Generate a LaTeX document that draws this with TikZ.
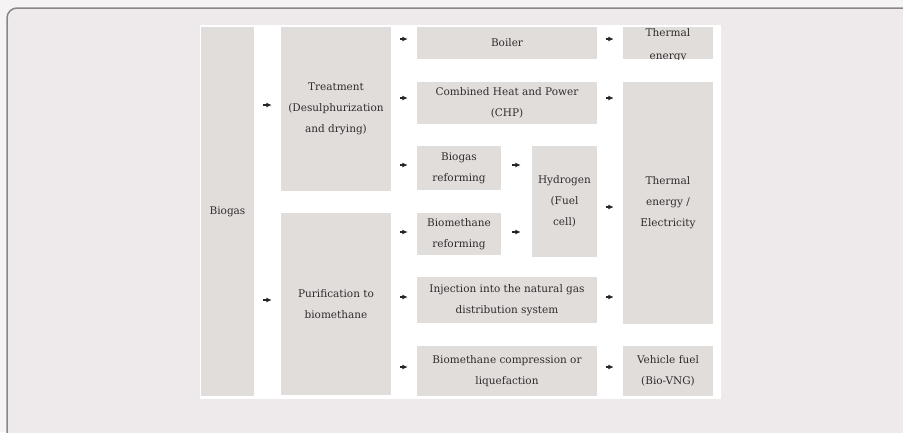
\documentclass[tikz,border=0pt]{standalone}
\usepackage{fontspec}
\setmainfont{DejaVu Serif}
\usetikzlibrary{arrows.meta}

\definecolor{pagebg}{HTML}{F5F3F3}
\definecolor{panelbg}{HTML}{EEE9EA}
\definecolor{framecol}{HTML}{8A8686}
\definecolor{boxfill}{HTML}{E1DDDB}
\definecolor{txtcol}{HTML}{2E2C2C}
\definecolor{arrcol}{HTML}{262424}

\tikzset{
  box/.style={fill=boxfill, draw=none, inner sep=0pt, align=center,
    text=txtcol, font=\fontsize{10.5}{21}\selectfont},
  arr/.style={draw=arrcol, line width=1.1pt, -{Latex[length=5.5pt,width=5pt]},
    shorten <=9pt, shorten >=9pt},
  arrw/.style={arr, shorten <=11pt, shorten >=11pt}
}

\begin{document}
\begin{tikzpicture}[x=1pt, y=-1pt]
\useasboundingbox (0,0) rectangle (903,432);

% page and rounded outer frame
\fill[pagebg] (0,0) rectangle (903,432);
\filldraw[fill=panelbg, draw=framecol, line width=1.5pt, rounded corners=10pt]
  (7,8) rectangle (960,480);

% white panel holding the flow chart
\fill[white] (200,25) rectangle (721,399);

% first column
\node[box, minimum width=53pt, minimum height=369pt] (biogas) at (227.5,211.5) {Biogas};

% second column
\node[box, minimum width=110pt, minimum height=164pt] (treat) at (336,109)
  {Treatment\\(Desulphurization\\and drying)};
\node[box, minimum width=110pt, minimum height=182pt] (purif) at (336,304)
  {Purification to\\biomethane};

% third column
\node[box, minimum width=180pt, minimum height=32pt] (boiler) at (507,43) {Boiler};
\node[box, minimum width=180pt, minimum height=42pt] (chp) at (507,103)
  {Combined Heat and Power\\(CHP)};
\node[box, minimum width=84pt, minimum height=44pt] (bref) at (459,168)
  {Biogas\\reforming};
\node[box, minimum width=84pt, minimum height=42pt] (mref) at (459,234)
  {Biomethane\\reforming};
\node[box, minimum width=65pt, minimum height=111pt] (hyd) at (564.5,201.5)
  {Hydrogen\\(Fuel\\cell)};
\node[box, minimum width=180pt, minimum height=46pt] (inj) at (507,300)
  {Injection into the natural gas\\distribution system};
\node[box, minimum width=180pt, minimum height=50pt] (comp) at (507,371)
  {Biomethane compression or\\liquefaction};

% end uses; the small top box cuts off its own overflowing label
\begin{scope}
  \clip (623,27) rectangle (713,59.5);
  \fill[boxfill] (623,27) rectangle (713,59);
  \node[box, fill=none, minimum width=90pt, font=\fontsize{10.5}{23}\selectfont]
    (therm) at (668,45.5) {Thermal\\energy};
\end{scope}
\node[box, minimum width=90pt, minimum height=242pt] (elec) at (668,203)
  {Thermal\\energy /\\Electricity};
\node[box, minimum width=90pt, minimum height=50pt] (fuel) at (668,371)
  {Vehicle fuel\\(Bio-VNG)};

% arrows from biogas
\draw[arr] ([yshift=4pt]treat.west -| biogas.east) -- ([yshift=4pt]treat.west);
\draw[arr] ([yshift=4pt]purif.west -| biogas.east) -- ([yshift=4pt]purif.west);

% arrows from treatment
\draw[arr] ([yshift=4pt]boiler.west -| treat.east) -- ([yshift=4pt]boiler.west);
\draw[arr] ([yshift=5pt]chp.west -| treat.east) -- ([yshift=5pt]chp.west);
\draw[arr] ([yshift=3pt]bref.west -| treat.east) -- ([yshift=3pt]bref.west);

% arrows from purification
\draw[arr] ([yshift=2pt]mref.west -| purif.east) -- ([yshift=2pt]mref.west);
\draw[arr] ([yshift=3pt]inj.west -| purif.east) -- ([yshift=3pt]inj.west);
\draw[arr] ([yshift=4pt]comp.west -| purif.east) -- ([yshift=4pt]comp.west);

% reforming to hydrogen
\draw[arrw] ([yshift=3pt]bref.east) -- ([yshift=3pt]bref.east -| hyd.west);
\draw[arrw] ([yshift=2pt]mref.east) -- ([yshift=2pt]mref.east -| hyd.west);

% arrows to end uses
\draw[arr] ([yshift=4pt]boiler.east) -- ([yshift=4pt]boiler.east -| therm.west);
\draw[arr] ([yshift=5pt]chp.east) -- ([yshift=5pt]chp.east -| elec.west);
\draw[arr] ([yshift=-5.5pt]hyd.east) -- ([yshift=-5.5pt]hyd.east -| elec.west);
\draw[arr] ([yshift=3pt]inj.east) -- ([yshift=3pt]inj.east -| elec.west);
\draw[arr] ([yshift=4pt]comp.east) -- ([yshift=4pt]comp.east -| fuel.west);
\end{tikzpicture}
\end{document}
